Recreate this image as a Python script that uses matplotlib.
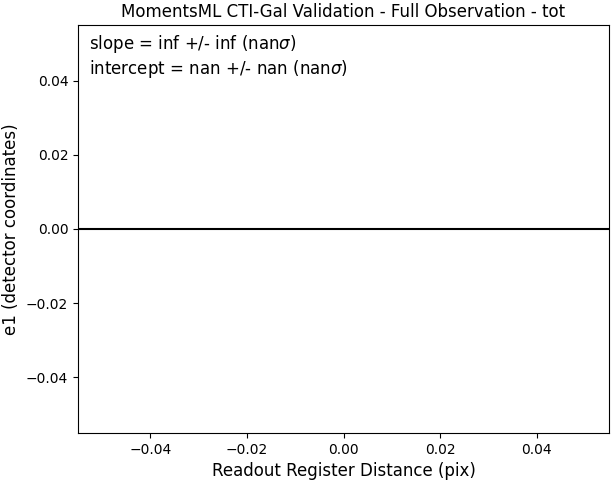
import numpy as np
import matplotlib
matplotlib.use('Agg')
import matplotlib.pyplot as plt

# no valid measurements in this observation -> empty data, nan fit
distance = np.array([])
e1 = np.array([])
slope, slope_err, slope_sig = np.inf, np.inf, np.nan
intercept, intercept_err, intercept_sig = np.nan, np.nan, np.nan

title = "MomentsML CTI-Gal Validation - Full Observation - tot"
xlabel = "Readout Register Distance (pix)"
ylabel = "e1 (detector coordinates)"
limits = (-0.055, 0.055)

fig = plt.figure(figsize=(6.14, 4.82), dpi=100)
ax = fig.add_axes([0.127, 0.1017, 0.865, 0.8465])

ax.errorbar(distance, e1, fmt='o')
ax.axhline(0, color='black', linewidth=1.5)

ax.set_xlim(*limits)
ax.set_ylim(*limits)
ax.set_title(title, fontsize=12)
ax.set_xlabel(xlabel, fontsize=12)
ax.set_ylabel(ylabel, fontsize=12)

text = (f"slope = {slope} +/- {slope_err} ({slope_sig}$\\sigma$)\n"
        f"intercept = {intercept} +/- {intercept_err} ({intercept_sig}$\\sigma$)")
ax.text(0.02, 0.98, text, transform=ax.transAxes, fontsize=12,
        va='top', ha='left')

fig.savefig("out.png", dpi=100)
plt.close()
